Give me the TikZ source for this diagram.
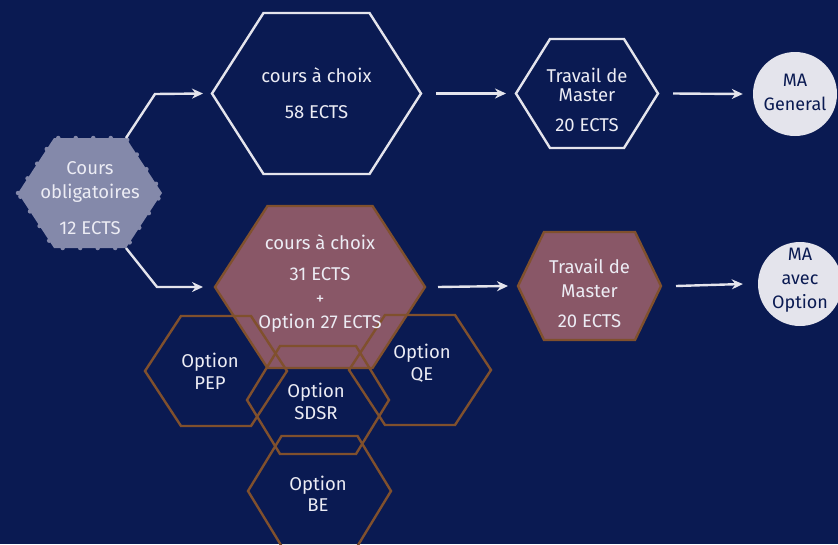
\documentclass[tikz,border=0pt]{standalone}
\usepackage{fontspec}
\setmainfont{Fira Sans}
\usetikzlibrary{arrows.meta}
\definecolor{bgnavy}{RGB}{10,26,82}
\definecolor{mauve}{RGB}{137,87,103}
\definecolor{brownline}{RGB}{128,80,45}
\definecolor{lavender}{RGB}{132,137,170}
\definecolor{pale}{RGB}{228,228,236}
\definecolor{txt}{RGB}{236,236,244}
\newcommand{\hexpath}[7]{% name, cx, cy, half-width, half-height, top half-width, style
  \path[#7] (#2-#4,#3) -- (#2-#6,#3-#5) -- (#2+#6,#3-#5) -- (#2+#4,#3)
     -- (#2+#6,#3+#5) -- (#2-#6,#3+#5) -- cycle;
  \coordinate (#1-l) at (#2-#4,#3);
  \coordinate (#1-r) at (#2+#4,#3);
  \coordinate (#1-tr) at (#2+#6,#3-#5);
  \coordinate (#1-br) at (#2+#6,#3+#5);
}
\tikzset{
  whitehex/.style={draw=pale, line width=2.4pt},
  mauvehex/.style={fill=mauve, draw=brownline, line width=2.4pt},
  optionhex/.style={draw=brownline, line width=2.4pt},
  corehex/.style={fill=lavender},
  coredots/.style={draw=lavender, line width=4.5pt, line cap=round, dash pattern=on 0pt off 17.5pt},
  label/.style={text=txt, align=center, font=\fontsize{18.5}{24}\selectfont, inner sep=0pt},
  optlabel/.style={text=txt, align=center, font=\fontsize{18.5}{21.5}\selectfont, inner sep=0pt},
  endcircle/.style={circle, fill=pale, minimum size=84pt, inner sep=0pt},
  circlabel/.style={text=bgnavy, align=center, font=\fontsize{18}{24}\selectfont, inner sep=0pt},
  flow/.style={draw=pale, line width=2.4pt, -{Stealth[length=11pt,width=10pt]}},
}
\begin{document}
\begin{tikzpicture}[x=1pt, y=-1pt]
\fill[bgnavy] (0,0) rectangle (838,544);
\useasboundingbox (0,0) rectangle (838,544);

% core hexagon
\hexpath{core}{90}{193}{72}{55}{36}{corehex}
\hexpath{coredot}{90}{193}{72}{55}{36}{coredots}
\node[label] (coretext) at (90,198) {Cours\\obligatoires\\[12pt]12 ECTS};

% top row
\hexpath{chtop}{316.5}{93.5}{104.5}{80.5}{53}{whitehex}
\node[label] (chtoptext) at (316.5,93) {cours à choix\\[12pt]58 ECTS};
\hexpath{tmtop}{587}{93.5}{71}{54.5}{37}{whitehex}
\node[label] (tmtoptext) at (587,99.5) {Travail de\\[-5pt]Master\\[6pt]20 ECTS};
\node[endcircle] (magen) at (795,94) {};
\node[circlabel] (magentext) at (795,92) {MA\\General};

% bottom row
\hexpath{chbot}{320}{287}{105}{81}{52.5}{mauvehex}
\hexpath{tmbot}{589.5}{286}{71.5}{54}{45.5}{mauvehex}
\node[label] (tmbottext) at (589.5,293) {Travail de\\Master\\[6pt]20 ECTS};
\node[endcircle] (maopt) at (800,284) {};
\node[circlabel] (maopttext) at (800,280) {MA\\avec\\Option};

% option hexagons
\hexpath{pep}{216}{371}{71}{55}{35}{optionhex}
\hexpath{qe}{420}{370}{71}{55}{35}{optionhex}
\hexpath{sdsr}{318}{400}{71}{54}{38}{optionhex}
\hexpath{be}{319.5}{491}{71.5}{55}{38}{optionhex}

\node[label] (chbottext) at (320,283.5) {cours à choix\\[7pt]31 ECTS\\{\fontsize{17}{24}\selectfont +}\\Option 27 ECTS};
\node[optlabel] (peptext) at (210,371.5) {Option\\PEP};
\node[optlabel] (qetext) at (422,363) {Option\\QE};
\node[optlabel] (sdsrtext) at (316,401.5) {Option\\SDSR};
\node[optlabel] (betext) at (318,494) {Option\\BE};

% connectors
\coordinate (elbowtop) at (155,94);
\coordinate (elbowbot) at (157,287);
\draw[flow] (core-tr) -- (elbowtop) -- ([xshift=-9pt]chtop-l);
\draw[flow] (core-br) -- (elbowbot) -- ([xshift=-12pt]chbot-l);
\draw[flow] ([xshift=15pt]chtop-r) -- ([xshift=-10pt]tmtop-l);
\draw[flow] ([xshift=13pt]chbot-r) -- ([xshift=-10pt]tmbot-l);
\draw[flow] ([xshift=15pt]tmtop-r) -- ([xshift=-10pt]magen.west);
\draw[flow] ([xshift=15pt]tmbot-r) -- ([xshift=-15pt]maopt.west);
\end{tikzpicture}
\end{document}
